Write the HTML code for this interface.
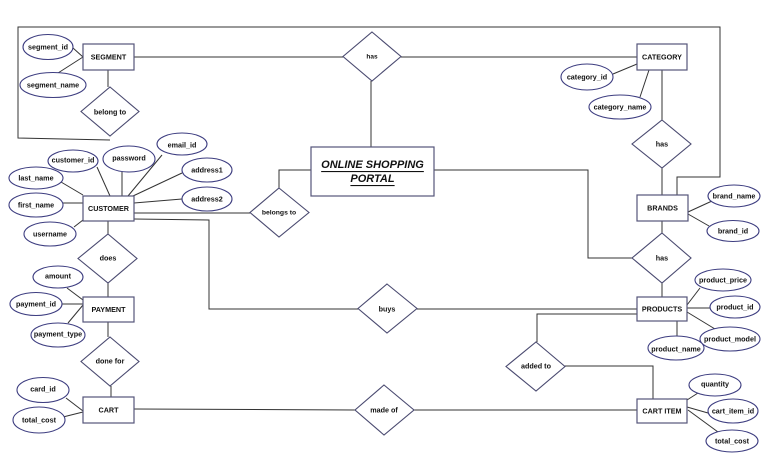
<!DOCTYPE html>
<html><head><meta charset="utf-8"><style>
html,body{margin:0;padding:0;background:#fff;}
svg{display:block;}
text{font-family:"Liberation Sans",Arial,sans-serif;font-weight:bold;font-size:7.2px;fill:#111;text-anchor:middle;dominant-baseline:central;}
.l{stroke:#333;stroke-width:1;fill:none;}
.e{stroke:#3d3d80;stroke-width:1.1;fill:#fff;}
.b{stroke:#55557a;stroke-width:1.2;fill:#fff;}
.d{stroke:#4a4a70;stroke-width:1.1;fill:#fff;}
</style></head><body>
<svg width="776" height="464" viewBox="0 0 776 464" xmlns="http://www.w3.org/2000/svg">
<!-- connectors -->
<polyline class="l" points="677,195 677,177 720,177 720,27 18,27 18,138 110,140"/>
<line class="l" x1="134" y1="57" x2="343" y2="57"/>
<line class="l" x1="401" y1="57" x2="637" y2="57"/>
<line class="l" x1="371" y1="81" x2="371" y2="147"/>
<line class="l" x1="108" y1="70" x2="108" y2="87"/>
<line class="l" x1="73" y1="48" x2="83" y2="57"/>
<line class="l" x1="58" y1="73" x2="83" y2="57"/>
<line class="l" x1="613" y1="74" x2="637" y2="64"/>
<line class="l" x1="640" y1="97" x2="649" y2="70"/>
<line class="l" x1="662" y1="70" x2="662" y2="120"/>
<line class="l" x1="662" y1="168" x2="662" y2="195"/>
<line class="l" x1="688" y1="212" x2="712" y2="201"/>
<line class="l" x1="688" y1="214" x2="709" y2="226"/>
<line class="l" x1="662" y1="221" x2="662" y2="233"/>
<polyline class="l" points="434,170 588,170 588,258 632,258"/>
<line class="l" x1="662" y1="283" x2="662" y2="297"/>
<line class="l" x1="687" y1="305" x2="700" y2="288"/>
<line class="l" x1="687" y1="308" x2="710" y2="308"/>
<line class="l" x1="687" y1="312" x2="715" y2="329"/>
<line class="l" x1="677" y1="321" x2="677" y2="336"/>
<line class="l" x1="417" y1="309" x2="637" y2="309"/>
<polyline class="l" points="637,314 537,314 537,342"/>
<polyline class="l" points="565,366 653,366 653,399"/>
<line class="l" x1="687" y1="400" x2="698" y2="393"/>
<line class="l" x1="687" y1="407" x2="708" y2="413"/>
<line class="l" x1="688" y1="410" x2="718" y2="432"/>
<line class="l" x1="134" y1="409" x2="355" y2="410"/>
<line class="l" x1="414" y1="410" x2="637" y2="410"/>
<line class="l" x1="66" y1="398" x2="83" y2="411"/>
<line class="l" x1="63" y1="417" x2="83" y2="412"/>
<line class="l" x1="111" y1="386" x2="111" y2="397"/>
<line class="l" x1="108" y1="322" x2="108" y2="337"/>
<line class="l" x1="61" y1="304" x2="83" y2="304"/>
<line class="l" x1="68" y1="323" x2="83" y2="305"/>
<line class="l" x1="67" y1="288" x2="83" y2="300"/>
<line class="l" x1="108" y1="283" x2="108" y2="297"/>
<line class="l" x1="108" y1="221" x2="108" y2="234"/>
<line class="l" x1="61" y1="182" x2="83" y2="195"/>
<line class="l" x1="63" y1="203" x2="83" y2="203"/>
<line class="l" x1="74" y1="227" x2="83" y2="220"/>
<line class="l" x1="97" y1="167" x2="110" y2="196"/>
<line class="l" x1="122" y1="172" x2="122" y2="196"/>
<line class="l" x1="162" y1="155" x2="128" y2="196"/>
<line class="l" x1="182" y1="173" x2="133" y2="196"/>
<line class="l" x1="182" y1="199" x2="134" y2="203"/>
<line class="l" x1="134" y1="213" x2="250" y2="213"/>
<polyline class="l" points="134,219 209,220 209,309 358,309"/>
<polyline class="l" points="279,188 279,170 311,170"/>

<!-- entities -->
<rect class="b" x="83" y="44" width="51" height="26"/><text x="108.5" y="57">SEGMENT</text>
<rect class="b" x="637" y="44" width="50" height="26"/><text x="662" y="57">CATEGORY</text>
<rect class="b" x="83" y="196" width="51" height="25"/><text x="108.5" y="208.5">CUSTOMER</text>
<rect class="b" x="637" y="195" width="51" height="26"/><text x="662.5" y="208">BRANDS</text>
<rect class="b" x="83" y="297" width="51" height="25"/><text x="108.5" y="309.5">PAYMENT</text>
<rect class="b" x="637" y="297" width="50" height="24"/><text x="662" y="309">PRODUCTS</text>
<rect class="b" x="83" y="397" width="51" height="26"/><text x="108.5" y="410">CART</text>
<rect class="b" x="637" y="399" width="50" height="24"/><text x="662" y="411">CART ITEM</text>
<rect class="b" x="311" y="147" width="123" height="49"/>
<text x="372.5" y="165" style="font-size:11px;font-style:italic;text-decoration:underline">ONLINE SHOPPING</text>
<text x="372.5" y="179" style="font-size:11px;font-style:italic;text-decoration:underline">PORTAL</text>

<!-- relationships -->
<polygon class="d" points="372,32 401,56.5 372,81 343,56.5"/><text x="372" y="57" style="font-size:6.5px">has</text>
<polygon class="d" points="110,87 139,111.5 110,136 81,111.5"/><text x="110" y="112">belong to</text>
<polygon class="d" points="662,120 691,144 662,168 632,144"/><text x="662" y="144">has</text>
<polygon class="d" points="662,233 691,258 662,283 632,258"/><text x="662" y="258">has</text>
<polygon class="d" points="279,188 309,212.5 279,237 250,212.5"/><text x="279" y="213" style="font-size:6.8px">belongs to</text>
<polygon class="d" points="108,234 137,258.5 108,283 78,258.5"/><text x="108" y="258">does</text>
<polygon class="d" points="387,284 417,308.5 387,333 358,308.5"/><text x="387" y="309">buys</text>
<polygon class="d" points="110,337 139,361.5 110,386 81,361.5"/><text x="110" y="361">done for</text>
<polygon class="d" points="536,342 565,366.5 536,391 506,366.5"/><text x="536" y="366">added to</text>
<polygon class="d" points="384,385 414,410 384,435 355,410"/><text x="384" y="410">made of</text>

<!-- attributes -->
<ellipse class="e" cx="48" cy="47" rx="25" ry="12.5"/><text x="48" y="47">segment_id</text>
<ellipse class="e" cx="53" cy="85" rx="33" ry="12.5"/><text x="53" y="85">segment_name</text>
<ellipse class="e" cx="587" cy="77" rx="26" ry="13"/><text x="587" y="77">category_id</text>
<ellipse class="e" cx="620" cy="107" rx="31" ry="12"/><text x="620" y="107">category_name</text>
<ellipse class="e" cx="734" cy="196" rx="26" ry="11"/><text x="734" y="196">brand_name</text>
<ellipse class="e" cx="733" cy="231" rx="26" ry="10.5"/><text x="733" y="231">brand_id</text>
<ellipse class="e" cx="723" cy="280" rx="28" ry="11"/><text x="723" y="280">product_price</text>
<ellipse class="e" cx="735" cy="307" rx="25" ry="11"/><text x="735" y="307">product_id</text>
<ellipse class="e" cx="730" cy="339" rx="30" ry="12"/><text x="730" y="339">product_model</text>
<ellipse class="e" cx="676" cy="348" rx="28" ry="12"/><text x="676" y="349">product_name</text>
<ellipse class="e" cx="715" cy="385" rx="26" ry="11"/><text x="715" y="384">quantity</text>
<ellipse class="e" cx="733" cy="411" rx="25" ry="12"/><text x="733" y="411">cart_item_id</text>
<ellipse class="e" cx="732" cy="441" rx="26" ry="11"/><text x="732" y="441">total_cost</text>
<ellipse class="e" cx="43" cy="390" rx="26" ry="12.5"/><text x="43" y="389">card_id</text>
<ellipse class="e" cx="39" cy="420" rx="26" ry="13"/><text x="39" y="420">total_cost</text>
<ellipse class="e" cx="36" cy="304" rx="26" ry="11.5"/><text x="36" y="304">payment_id</text>
<ellipse class="e" cx="58" cy="335" rx="27" ry="12"/><text x="58" y="334">payment_type</text>
<ellipse class="e" cx="58" cy="277" rx="25" ry="11"/><text x="58" y="276">amount</text>
<ellipse class="e" cx="36" cy="178" rx="27" ry="11"/><text x="36" y="178">last_name</text>
<ellipse class="e" cx="36" cy="205" rx="27" ry="12"/><text x="36" y="205">first_name</text>
<ellipse class="e" cx="50" cy="234" rx="26" ry="12"/><text x="50" y="234">username</text>
<ellipse class="e" cx="73" cy="161" rx="25" ry="11"/><text x="73" y="160">customer_id</text>
<ellipse class="e" cx="129" cy="159" rx="26" ry="13"/><text x="129" y="158">password</text>
<ellipse class="e" cx="182" cy="144" rx="25" ry="11"/><text x="182" y="145">email_id</text>
<ellipse class="e" cx="207" cy="170" rx="25" ry="12"/><text x="207" y="170">address1</text>
<ellipse class="e" cx="207" cy="199" rx="25" ry="12"/><text x="207" y="199">address2</text>
</svg>
</body></html>
